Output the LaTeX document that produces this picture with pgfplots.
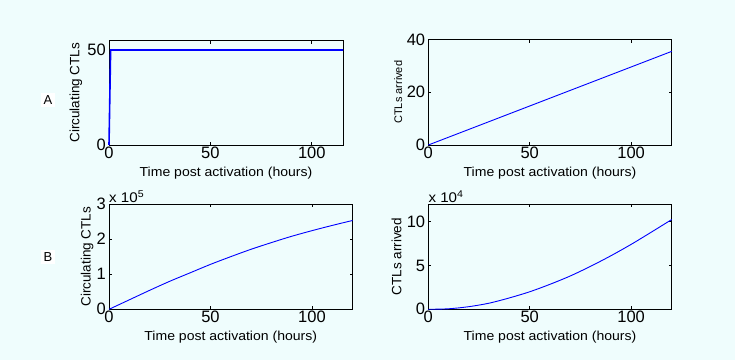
\documentclass[border=0pt]{standalone}
\usepackage{fontspec}
\setmainfont{Liberation Sans}
\newfontfamily\labfont{Liberation Sans}[FakeStretch=1.08]
\usepackage{pgfplots}
\pgfplotsset{compat=1.18}
\definecolor{bg}{RGB}{239,253,253}
\definecolor{lineblue}{RGB}{0,0,255}
\pgfplotsset{
  myaxis/.style={
    scale only axis,
    anchor=south west,
    clip=false,
    axis background/.style={fill=bg},
    axis line style={black, line width=0.9pt},
    tick align=inside,
    major tick length=3pt,
    tick style={black, line width=0.6pt},
    xmin=0, ymin=0,
    xtick={0,50,100},
    scaled y ticks=false,
    no markers,
    /pgf/number format/assume math mode=true,
    ticklabel style={font=\fontsize{16.5}{17}\selectfont},
    xticklabel style={inner sep=0pt, yshift=-1.5pt},
    yticklabel style={inner sep=0pt, xshift=-3pt},
    xlabel={Time post activation (hours)},
    xlabel style={font=\labfont\fontsize{13}{14}\selectfont, at={(axis description cs:0.5,0)}, anchor=base, yshift=-31pt},
  }
}
\begin{document}
\begin{tikzpicture}
\fill[bg] (0,0) rectangle (735pt,360pt);
\path[use as bounding box] (0,0) rectangle (735pt,360pt);

% Panel labels
\node[fill=white, inner sep=3pt, font=\fontsize{13}{13}\selectfont] at (48pt,260pt) {A};
\node[fill=white, inner sep=3pt, font=\fontsize{13}{13}\selectfont] at (48pt,103pt) {B};

% Top left
\begin{axis}[myaxis,
  at={(109pt,215pt)}, width=234pt, height=104.5pt,
  xmax=115.4, ymax=55, ytick={0,50},
  ylabel={Circulating CTLs},
  ylabel style={font=\fontsize{13.5}{14}\selectfont, at={(axis description cs:-0.141,0.5)}, anchor=center},
]
\addplot[lineblue, line width=1.6pt, mark=none] coordinates {(0,0) (0.8,50) (115.4,50)};
\end{axis}

% Top right
\begin{axis}[myaxis,
  at={(428.3pt,215pt)}, width=243.4pt, height=105.5pt,
  xmax=120, ymax=40, ytick={0,20,40},
  ylabel={CTLs arrived},
  ylabel style={font=\fontsize{11}{12}\selectfont, at={(axis description cs:-0.124,0.5)}, anchor=center},
]
\addplot[lineblue, line width=0.9pt, mark=none] coordinates {(0,0) (120,35.5)};
\end{axis}

% Bottom left
\begin{axis}[myaxis,
  at={(109pt,50.7pt)}, width=243.5pt, height=105.3pt,
  xmax=120, ymax=300000, ytick={0,100000,200000,300000}, yticklabels={0,1,2,3},
  ylabel={Circulating CTLs},
  ylabel style={font=\fontsize{13.5}{14}\selectfont, at={(axis description cs:-0.090,0.5)}, anchor=center},
]
\addplot[lineblue, line width=0.9pt, mark=none, smooth] coordinates {(0,0) (10,27000) (20,54000) (30,80000) (40,104000) (50,128000) (60,150000) (70,171000) (80,190000) (90,208000) (100,224000) (110,239000) (120,253000)};
\node[anchor=base west, inner sep=0pt, font=\labfont\fontsize{14}{14}\selectfont] at (rel axis cs:0,1) [yshift=1.5pt] {x 10\textsuperscript{5}};
\end{axis}

% Bottom right
\begin{axis}[myaxis,
  at={(428.3pt,50.7pt)}, width=243.4pt, height=105.3pt,
  xmax=120, ymax=120000, ytick={0,50000,100000}, yticklabels={0,5,10},
  ylabel={CTLs arrived},
  ylabel style={font=\fontsize{13.5}{14}\selectfont, at={(axis description cs:-0.130,0.5)}, anchor=center},
]
\addplot[lineblue, line width=0.9pt, mark=none, smooth] coordinates {(0,0) (10,600) (20,3000) (30,7000) (40,13000) (50,20000) (60,28500) (70,38000) (80,49000) (90,61000) (100,74000) (110,88000) (120,102300)};
\node[anchor=base west, inner sep=0pt, font=\labfont\fontsize{14}{14}\selectfont] at (rel axis cs:0,1) [yshift=1.5pt] {x 10\textsuperscript{4}};
\end{axis}
\end{tikzpicture}
\end{document}
